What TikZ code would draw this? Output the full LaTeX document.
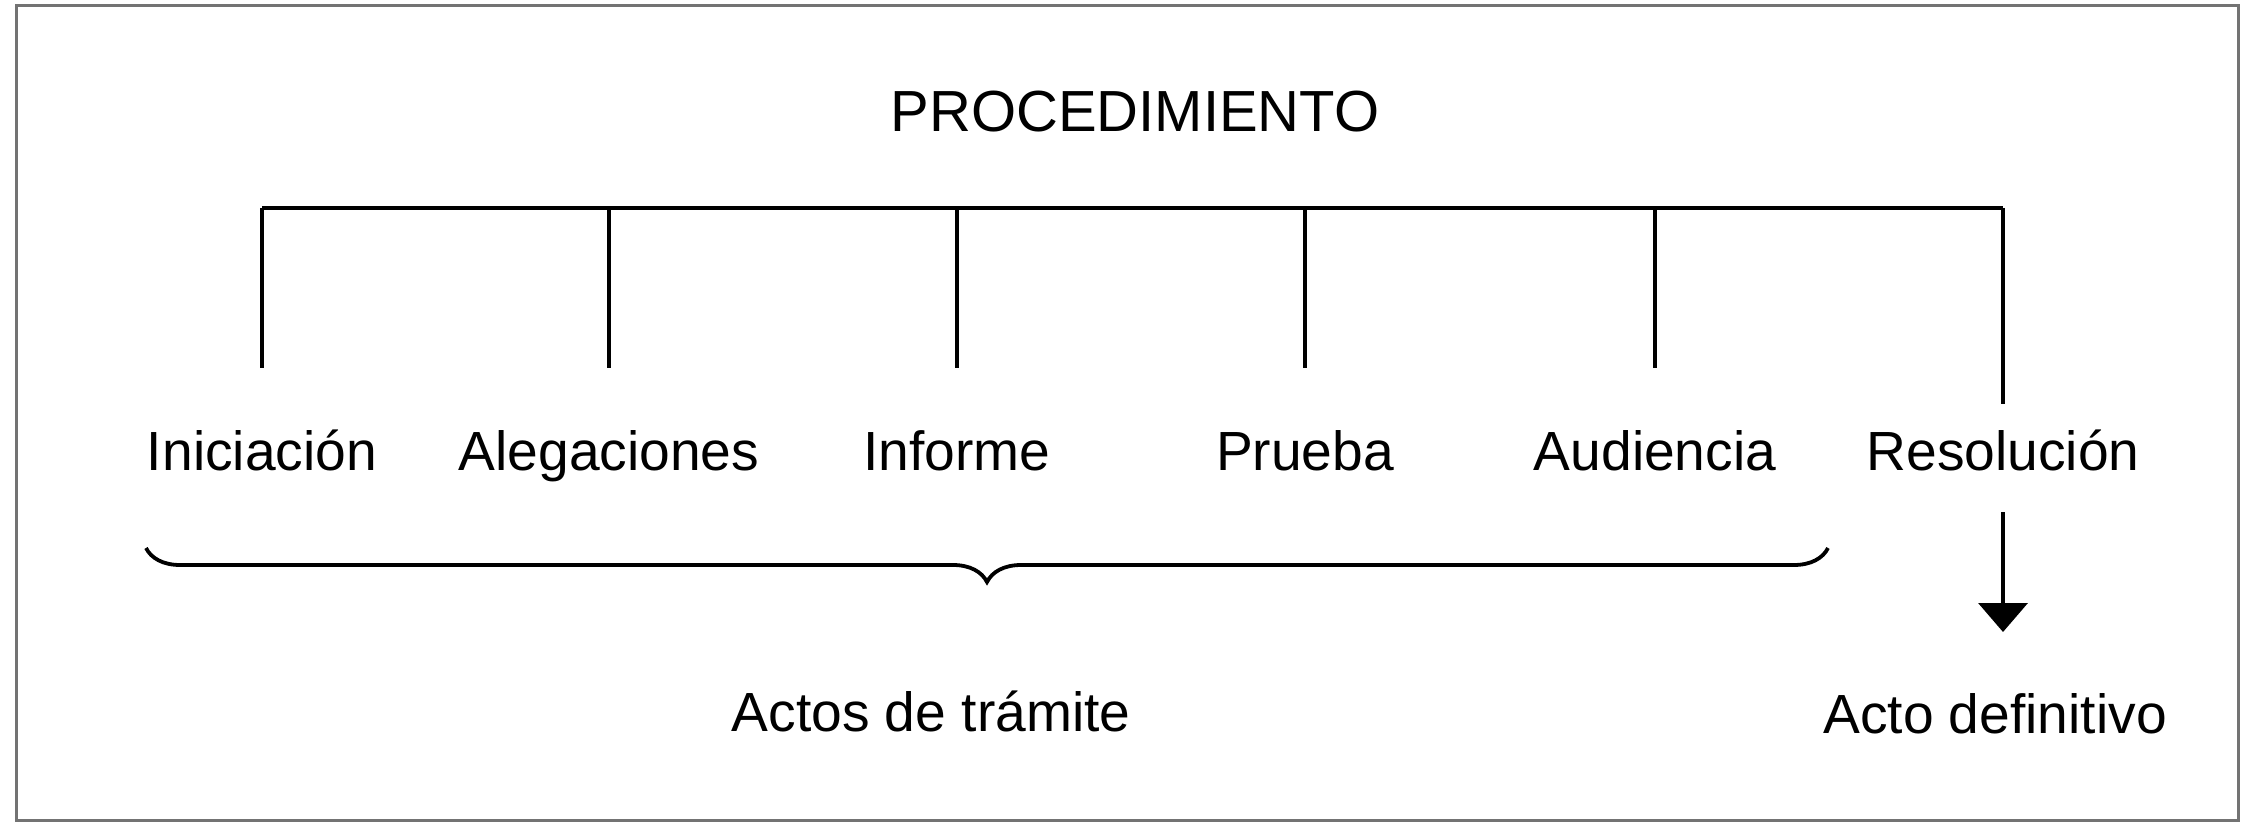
\documentclass[tikz,border=0pt]{standalone}
\usepackage{fontspec}
\setmainfont{Liberation Sans}
\usetikzlibrary{decorations.pathreplacing,arrows.meta}
\begin{document}
\begin{tikzpicture}[x=0.1mm,y=-0.1mm,
  lbl/.style={anchor=base,inner sep=0pt,font=\fontsize{15.7pt}{18pt}\selectfont},
  ttl/.style={anchor=base,inner sep=0pt,font=\fontsize{16.5pt}{19pt}\selectfont},
  ln/.style={line width=0.38mm,black},
  frame/.style={line width=0.3mm,draw=black!55}]
\useasboundingbox (0,0) rectangle (2247,825);
\draw[frame] (16,6) rectangle (2238,820);
\node[ttl] (title) at (1135,132) {PROCEDIMIENTO};
\node[lbl] (ini) at (262,470) {Iniciación};
\node[lbl] (ale) at (609,470) {Alegaciones};
\node[lbl] (inf) at (957,470) {Informe};
\node[lbl] (pru) at (1305,470) {Prueba};
\node[lbl] (aud) at (1655,470) {Audiencia};
\node[lbl] (res) at (2003,470) {Resolución};
\node[lbl] (tram) at (931,731) {Actos de trámite};
\node[lbl] (def) at (1995,733) {Acto definitivo};
\coordinate (b1) at (262,208);
\coordinate (b2) at (609,208);
\coordinate (b3) at (957,208);
\coordinate (b4) at (1305,208);
\coordinate (b5) at (1655,208);
\coordinate (b6) at (2003,208);
\coordinate (e1) at (262,368);
\coordinate (e2) at (609,368);
\coordinate (e3) at (957,368);
\coordinate (e4) at (1305,368);
\coordinate (e5) at (1655,368);
\coordinate (e6) at (2003,404);
\draw[ln] (b1) -- (b6);
\draw[ln] (b1) -- (e1);
\draw[ln] (b2) -- (e2);
\draw[ln] (b3) -- (e3);
\draw[ln] (b4) -- (e4);
\draw[ln] (b5) -- (e5);
\draw[ln] (b6) -- (e6);
\coordinate (as) at (2003,512);
\coordinate (at) at (2003,632);
\draw[ln,-{Triangle[width=4.9mm,length=2.9mm]}] (as) -- (at);
\coordinate (bl) at (146,548);
\coordinate (br) at (1828,548);
\draw[ln,decorate,decoration={brace,mirror,amplitude=3.4mm}] (bl) -- (br);
\end{tikzpicture}
\end{document}
